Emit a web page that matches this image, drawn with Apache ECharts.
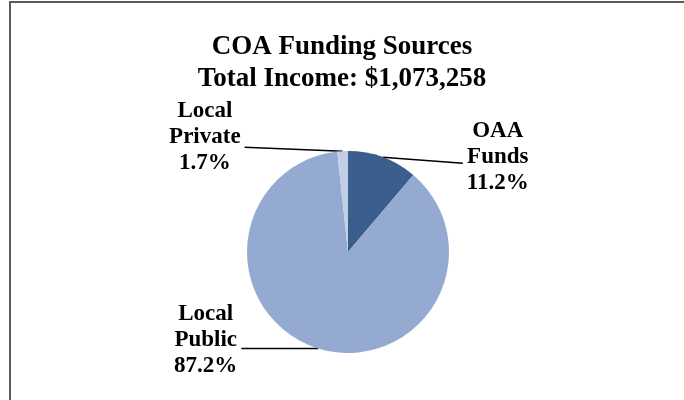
<!DOCTYPE html>
<html>
<head>
<meta charset="utf-8">
<script src="https://cdn.jsdelivr.net/npm/echarts@6/dist/echarts.min.js"></script>
<style>
html,body{margin:0;padding:0;background:#fff;}
#c{width:684px;height:400px;}
</style>
</head>
<body>
<div id="c"></div>
<script>
var titleLines = ['COA Funding Sources', 'Total Income: $1,073,258'];
var categories = ['OAA\nFunds', 'Local\nPublic', 'Local\nPrivate'];
var values = [11.2, 87.2, 1.7];
var colors = ['#3B5F8D', '#94AAD1', '#C1CEE6'];

var lineLen2 = [80, 77, 98];
var lineTilt = [6, 0, -4];
var labelPad = [[0, 0, 0, 0], [0, 0, 16, 0], [0, 0, 28, 0]];

var data = categories.map(function (c, i) {
  return {
    name: c,
    value: values[i],
    itemStyle: { color: colors[i] },
    label: { padding: labelPad[i] },
    labelLine: { length: 0, length2: lineLen2[i] }
  };
});

var chart = echarts.init(document.getElementById('c'), null, { renderer: 'canvas' });
chart.setOption({
  backgroundColor: '#fff',
  animation: false,
  title: {
    text: titleLines.join('\n'),
    left: 'center',
    top: 31,
    padding: [0, 0, 0, 12],
    textStyle: {
      fontFamily: 'Liberation Serif',
      fontWeight: 'bold',
      fontSize: 27,
      lineHeight: 32,
      color: '#000'
    }
  },
  graphic: [{
    type: 'rect',
    shape: { x: 10, y: 2, width: 700, height: 420 },
    style: { fill: 'none', stroke: '#5a5a5a', lineWidth: 2 },
    silent: true,
    z: -1
  }],
  series: [{
    type: 'pie',
    center: [348, 252],
    radius: 101,
    startAngle: 90,
    clockwise: true,
    avoidLabelOverlap: false,
    itemStyle: { borderWidth: 0 },
    label: {
      show: true,
      position: 'outside',
      distanceToLabelLine: 4,
      formatter: function (p) { return '{t|' + p.name + '\n' + p.value.toFixed(1) + '%}'; },
      rich: {
        t: {
          fontFamily: 'Liberation Serif',
          fontWeight: 'bold',
          fontSize: 23,
          lineHeight: 26,
          color: '#000',
          align: 'center'
        }
      }
    },
    labelLine: {
      show: true,
      smooth: false,
      lineStyle: { color: '#000', width: 1.5 }
    },
    labelLayout: function (params) {
      var pts = params.labelLinePoints;
      if (!pts) return {};
      var last = pts[pts.length - 1];
      var newPts = pts.map(function (p) { return [p[0], p[1]]; });
      newPts[newPts.length - 1] = [last[0], last[1] + lineTilt[params.dataIndex]];
      return { labelLinePoints: newPts };
    },
    emphasis: { disabled: true },
    data: data
  }]
});
</script>
</body>
</html>
